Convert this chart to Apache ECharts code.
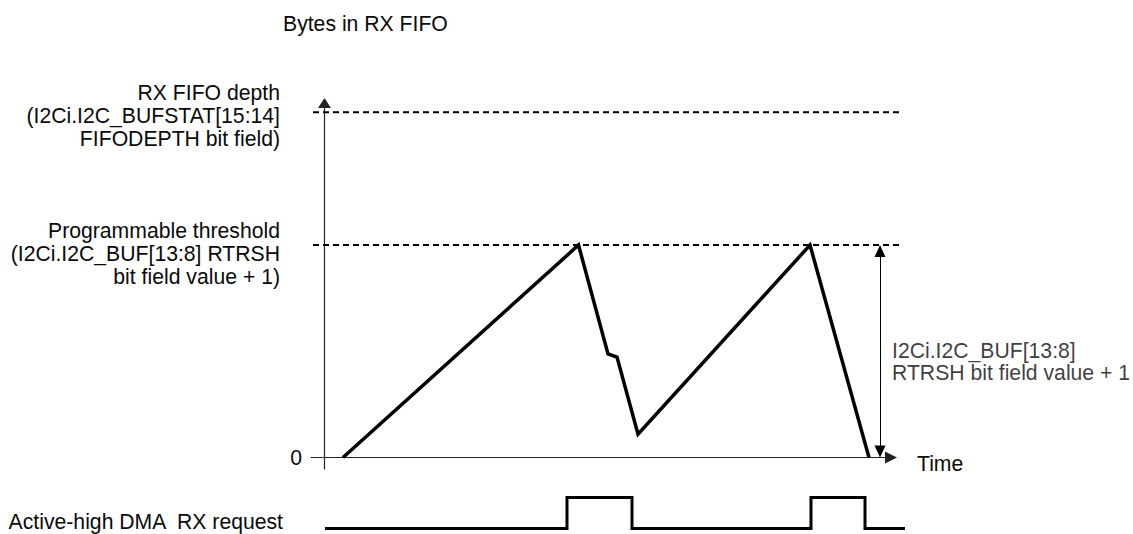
<!DOCTYPE html>
<html><head><meta charset="utf-8">
<script src="https://cdn.jsdelivr.net/npm/echarts@6/dist/echarts.min.js"></script>
<style>html,body{margin:0;padding:0;background:#fff}#c{width:1133px;height:534px}</style>
</head><body><div id="c"></div>
<script>
// FIFO fill level (bytes) versus time (arbitrary time units)
const fifoTime  = [1.85, 25.4, 28.35, 29.25, 31.35, 48.55, 54.45];
const fifoBytes = [0,    8,    3.9,   3.78,  0.88,  8,     0];

// Reference levels (dashed lines)
const levelValues = [13, 8];
const levelNames = [
  'RX FIFO depth\n(I2Ci.I2C_BUFSTAT[15:14]\nFIFODEPTH bit field)',
  'Programmable threshold\n(I2Ci.I2C_BUF[13:8] RTRSH\nbit field value + 1)'
];
const levelSpan = [-1.15, 57.85];

// DMA RX request signal
const dmaTime  = [0.05, 24.25, 30.75, 48.65, 54.05, 58.05];
const dmaLevel = [0,    1,     0,     1,     0,     0];
const dmaName = 'Active-high DMA  RX request';

// Span annotation (threshold height)
const spanX = 55.55;
const spanText = 'I2Ci.I2C_BUF[13:8]\nRTRSH bit field value + 1';

// Axis tick labels
const yTicks = [0];
const yTickLabels = ['0'];
const xName = 'Time';
const yName = 'Bytes in RX FIFO';

const FONT = '"Liberation Sans", Arial, Helvetica, sans-serif';
const FS = 21.2;
const TXT = '#0a0a0a';

const chart = echarts.init(document.getElementById('c'), null, {renderer: 'svg'});

const mainTop = 103, mainBottom = 65, yMin = -0.433, yMax = 13.35;
const xMin = -1.35, xMax = 56.65, xMaxWide = 58.05;
const pxPerY = (534 - mainTop - mainBottom) / (yMax - yMin);
const arrowLen = 12;
const inset = (arrowLen / 2) / pxPerY;
const levelShift = [3.5, 8];

const option = {
  animation: false,
  textStyle: {fontFamily: FONT, fontSize: FS, color: TXT},
  title: {
    text: yName, left: 283, top: 13, padding: 0,
    textStyle: {fontFamily: FONT, fontSize: FS, fontWeight: 'normal', color: TXT}
  },
  grid: [
    {left: 311, right: 242, top: mainTop, bottom: mainBottom},
    {left: 311, right: 228, top: 497.5, bottom: 5.5},
    {left: 311, right: 228, top: mainTop, bottom: mainBottom}
  ],
  xAxis: [
    {
      type: 'value', gridIndex: 0, min: xMin, max: xMax,
      axisLine: {show: true, onZero: true, symbol: ['none', 'triangle'], symbolSize: [12, 12],
        lineStyle: {color: '#222', width: 1.2}},
      axisTick: {show: false}, axisLabel: {show: false}, splitLine: {show: false},
      name: xName, nameLocation: 'end', nameGap: 26,
      nameTextStyle: {fontFamily: FONT, fontSize: FS, color: TXT, verticalAlign: 'top', lineHeight: 11}
    },
    {type: 'value', gridIndex: 1, min: xMin, max: xMaxWide, show: false},
    {type: 'value', gridIndex: 2, min: xMin, max: xMaxWide, show: false}
  ],
  yAxis: [
    {
      type: 'value', gridIndex: 0, min: yMin, max: yMax,
      axisLine: {show: true, onZero: true, symbol: ['none', 'triangle'], symbolSize: [13, 10],
        lineStyle: {color: '#222', width: 1.2}},
      axisTick: {show: false}, splitLine: {show: false},
      axisLabel: {
        show: true, customValues: yTicks, margin: 9,
        formatter: v => { const i = yTicks.indexOf(v); return i >= 0 ? yTickLabels[i] : ''; },
        fontFamily: FONT, fontSize: FS, color: TXT
      }
    },
    {type: 'value', gridIndex: 1, min: 0, max: 1, show: false},
    {type: 'value', gridIndex: 2, min: yMin, max: yMax, show: false}
  ],
  series: [
    // dashed reference levels
    ...levelValues.map((v, i) => ({
      type: 'line', xAxisIndex: 2, yAxisIndex: 2, silent: true, clip: false,
      symbol: 'circle', symbolSize: 0.01, showSymbol: true,
      itemStyle: {color: 'rgba(0,0,0,0)'},
      lineStyle: {color: '#000', width: 2, type: [6, 4]},
      data: [
        {value: [levelSpan[0], v], label: {
          show: true, formatter: levelNames[i], position: 'left', distance: 33,
          offset: [0, levelShift[i]], align: 'right', lineHeight: 23,
          fontFamily: FONT, fontSize: FS, color: TXT}},
        [levelSpan[1], v]
      ]
    })),
    // FIFO level
    {
      type: 'line', xAxisIndex: 0, yAxisIndex: 0, silent: true, clip: false,
      symbol: 'none',
      lineStyle: {color: '#000', width: 3.5, join: 'miter', cap: 'butt'},
      data: fifoTime.map((t, i) => [t, fifoBytes[i]]),
      markLine: {
        silent: true, symbol: ['triangle', 'triangle'], symbolSize: [11, arrowLen],
        lineStyle: {color: '#000', width: 1, type: 'solid'},
        itemStyle: {color: '#000'},
        label: {show: false},
        data: [[{coord: [spanX, 0 + inset]}, {coord: [spanX, levelValues[1] - inset]}]]
      }
    },
    // span annotation text
    {
      type: 'scatter', xAxisIndex: 0, yAxisIndex: 0, silent: true,
      symbolSize: 0.01, itemStyle: {color: 'rgba(0,0,0,0)'},
      data: [{value: [spanX, levelValues[1] / 2], label: {
        show: true, formatter: spanText, position: 'right', distance: 12,
        offset: [0, 10.7], align: 'left', lineHeight: 22,
        fontFamily: FONT, fontSize: FS, color: TXT}}]
    },
    // DMA request
    {
      type: 'line', xAxisIndex: 1, yAxisIndex: 1, silent: true, clip: false,
      step: 'end', symbol: 'circle', symbolSize: 0.01, showSymbol: true,
      itemStyle: {color: 'rgba(0,0,0,0)'},
      lineStyle: {color: '#000', width: 3, join: 'miter', cap: 'butt'},
      data: dmaTime.map((t, i) => i === 0 ? {value: [t, dmaLevel[i]], label: {
        show: true, formatter: dmaName, position: 'left', distance: 42,
        offset: [0, -7.5], align: 'right',
        fontFamily: FONT, fontSize: FS, color: TXT}} : [t, dmaLevel[i]])
    }
  ]
};
chart.setOption(option);
</script>
</body></html>
